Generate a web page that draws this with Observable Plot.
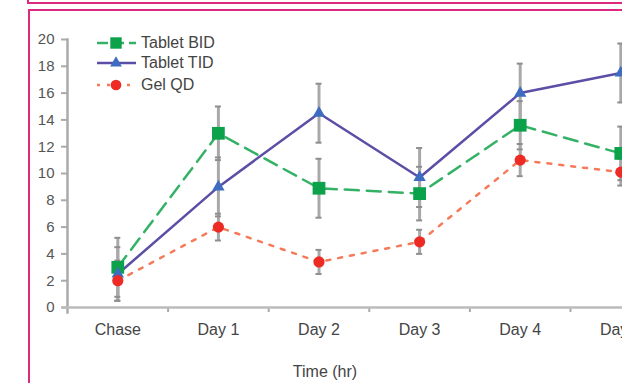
<!DOCTYPE html>
<html>
<head>
<meta charset="utf-8">
<script src="https://cdn.jsdelivr.net/npm/d3@7"></script>
<script src="https://cdn.jsdelivr.net/npm/@observablehq/plot@0.6"></script>
<style>
  html, body { margin: 0; padding: 0; background: #fff; }
  #wrap { position: relative; width: 622px; height: 383px; overflow: hidden; background: #fff;
          font-family: Arial, "Liberation Sans", sans-serif; }
  #chart svg { display: block; }
  .frame1 { position: absolute; left: 27px; top: -20px; width: 700px; height: 20px;
            border: 2px solid #dc2a80; }
  .frame2 { position: absolute; left: 28px; top: 9px; width: 700px; height: 500px;
            border: 2px solid #dc2a80; }
  #legend { position: absolute; left: 96px; top: 33px; }
  .leg { position: absolute; left: 0; height: 20px; white-space: nowrap; }
  .leg svg { position: absolute; left: 0; top: 0; }
  .leg span { position: absolute; left: 45px; top: 1px; font-size: 16px; color: #444; }
  #xtitle { position: absolute; left: 325px; top: 363px; transform: translateX(-50%);
            font-size: 16px; color: #444; white-space: nowrap; }
</style>
</head>
<body>
<div id="wrap">
  <div class="frame1"></div>
  <div class="frame2"></div>
  <div id="chart"></div>
  <div id="legend"></div>
  <div id="xtitle">Time (hr)</div>
</div>
<script>
// ---- data ----
const categories = ["Chase", "Day 1", "Day 2", "Day 3", "Day 4", "Day 5"];
const bidMean = [3, 13, 8.9, 8.5, 13.6, 11.5];
const bidErr  = [2.2, 2, 2.2, 2, 1.8, 2];
const tidMean = [2.5, 9, 14.5, 9.7, 16, 17.5];
const tidErr  = [2, 2.2, 2.2, 2.2, 2.2, 2.2];
const gelMean = [2, 6, 3.4, 4.9, 11, 10.1];
const gelErr  = [1.5, 1, 0.9, 0.9, 1.2, 1];
const yTicks  = [0, 2, 4, 6, 8, 10, 12, 14, 16, 18, 20];
const seriesNames = ["Tablet BID", "Tablet TID", "Gel QD"];

const colors = {
  bidLine: "#35b166", bidMark: "#0ca14b",
  tidLine: "#5a4ea6", tidMark: "#3d6cc0",
  gelLine: "#f47a5a", gelMark: "#ee2a24"
};

const idx = categories.map((c, i) => i);
function rowsOf(mean, err) {
  return idx.map(i => ({i, v: mean[i], lo: mean[i] - err[i], hi: mean[i] + err[i]}));
}
const bid = rowsOf(bidMean, bidErr);
const tid = rowsOf(tidMean, tidErr);
const gel = rowsOf(gelMean, gelErr);
const allErr = [...bid, ...tid, ...gel];
const boundaries = idx.map(i => i + 0.5);

const errStroke = "#a9a9a9";

const chart = Plot.plot({
  width: 622,
  height: 383,
  marginLeft: 67,
  marginRight: 0,
  marginTop: 39,
  marginBottom: 76,
  style: {background: "transparent", fontFamily: "Arial, 'Liberation Sans', sans-serif"},
  x: {type: "linear", domain: [-0.5, 5.5], range: [67, 670.6]},
  y: {domain: [0, 20]},
  marks: [
    // axes
    Plot.axisY({ticks: yTicks, tickSize: 6, tickPadding: 7, stroke: "#aaa", strokeWidth: 2,
                fill: "#555", fontSize: 15, label: null}),
    Plot.axisX({ticks: boundaries, tickSize: 5, tickFormat: () => "", stroke: "#aaa",
                strokeWidth: 2, label: null}),
    Plot.axisX({ticks: idx, tickSize: 0, tickPadding: 16, tickFormat: i => categories[i],
                fill: "#444", fontSize: 16, label: null}),
    Plot.frame({anchor: "left", stroke: "#aaa", strokeWidth: 2.5, insetBottom: -5}),
    Plot.ruleY([0], {stroke: "#bbb", strokeWidth: 2.5, insetLeft: -5}),
    // error bars
    Plot.ruleX(allErr, {x: "i", y1: "lo", y2: "hi", stroke: errStroke, strokeWidth: 3}),
    Plot.ruleY(allErr, {y: "lo", x1: "i", x2: "i", insetLeft: -3, insetRight: -3, stroke: "#8e8e8e", strokeWidth: 2}),
    Plot.ruleY(allErr, {y: "hi", x1: "i", x2: "i", insetLeft: -3, insetRight: -3, stroke: "#8e8e8e", strokeWidth: 2}),
    // lines
    Plot.line(bid, {x: "i", y: "v", stroke: colors.bidLine, strokeWidth: 2.5, strokeDasharray: "14,8"}),
    Plot.line(tid, {x: "i", y: "v", stroke: colors.tidLine, strokeWidth: 2.5}),
    Plot.line(gel, {x: "i", y: "v", stroke: colors.gelLine, strokeWidth: 2.5, strokeDasharray: "4,8"}),
    // markers
    Plot.dot(bid, {x: "i", y: "v", symbol: "square", r: 7.2, fill: colors.bidMark, stroke: "none"}),
    Plot.dot(tid, {x: "i", y: "v", symbol: "triangle", r: 4.6, fill: colors.tidMark, stroke: "none"}),
    Plot.dot(gel, {x: "i", y: "v", symbol: "circle", r: 5.6, fill: colors.gelMark, stroke: "none"})
  ]
});
document.getElementById("chart").appendChild(chart);

// ---- legend ----
const legendSpecs = [
  {name: seriesNames[0], line: colors.bidLine, dash: "11,5", mark: colors.bidMark, sym: d3.symbolSquare, size: 130, top: 0},
  {name: seriesNames[1], line: colors.tidLine, dash: null, mark: colors.tidMark, sym: d3.symbolTriangle, size: 60, top: 20},
  {name: seriesNames[2], line: colors.gelLine, dash: "3,7", mark: colors.gelMark, sym: d3.symbolCircle, size: 90, top: 42}
];
const legend = d3.select("#legend");
for (const s of legendSpecs) {
  const row = legend.append("div").attr("class", "leg").style("top", s.top + "px");
  const svg = row.append("svg").attr("width", 42).attr("height", 20);
  svg.append("line").attr("x1", 1).attr("x2", 40).attr("y1", 10).attr("y2", 10)
    .attr("stroke", s.line).attr("stroke-width", 2.5)
    .attr("stroke-dasharray", s.dash);
  svg.append("path").attr("transform", "translate(20,10)")
    .attr("d", d3.symbol(s.sym, s.size)()).attr("fill", s.mark);
  row.append("span").text(s.name);
}
</script>
</body>
</html>
